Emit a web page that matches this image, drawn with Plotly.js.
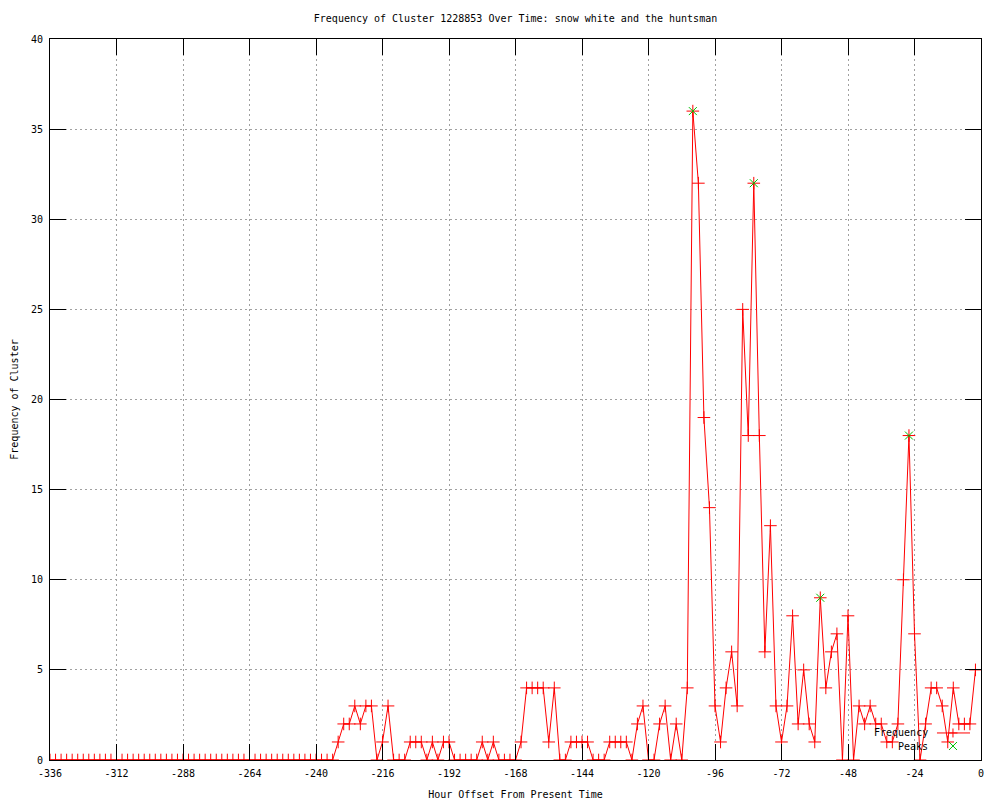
<!DOCTYPE html>
<html>
<head>
<meta charset="utf-8">
<script src="https://cdn.plot.ly/plotly-3.0.1.min.js"></script>
<style>html,body{margin:0;padding:0;background:#fff;}#chart{width:1000px;height:800px;}</style>
</head>
<body>
<div id="chart"></div>
<script>
// Hour offsets (every 2 hours from -336 to -2)
const hours = [];
for (let h = -336; h <= -2; h += 2) hours.push(h);

// Frequency values, one per hour offset above
const frequency = [
  0,0,0,0,0,0,0,0,0,0, 0,0,0,0,0,0,0,0,0,0,   // -336 .. -298
  0,0,0,0,0,0,0,0,0,0, 0,0,0,0,0,0,0,0,0,0,   // -296 .. -258
  0,0,0,0,0,0,0,0,0,0, 0,0,                   // -256 .. -234
  1,2,2,3,2,3,3,0,1,3,                        // -232 .. -214
  0,0,0,1,1,1,0,1,0,1,                        // -212 .. -194
  1,0,0,0,0,0,1,0,1,0,                        // -192 .. -174
  0,0,0,1,4,4,4,4,1,4,                        // -172 .. -154
  0,0,1,1,1,1,0,0,0,1,                        // -152 .. -134
  1,1,1,0,2,3,0,0,2,3,                        // -132 .. -114
  0,2,0,4,36,32,19,14,3,1,                    // -112 .. -94
  4,6,3,25,18,32,18,6,13,3,                   // -92 .. -74
  1,3,8,2,5,2,1,9,4,6,                        // -72 .. -54
  7,0,8,0,3,2,3,2,2,1,                        // -52 .. -34
  1,2,10,18,7,0,2,4,4,3,                      // -32 .. -14
  1,4,2,2,2,5                                 // -12 .. -2
];

// Detected peaks
const peakHours = [-104, -82, -58, -26];
const peakValues = [36, 32, 9, 18];

// Tick labels
const xTicks = [-336,-312,-288,-264,-240,-216,-192,-168,-144,-120,-96,-72,-48,-24,0];
const yTicks = [0,5,10,15,20,25,30,35,40];

// Legend entries
const legendNames = ['Frequency', 'Peaks'];

const FONT = 'DejaVu Sans Mono, monospace';
const RED = '#ff0000';
const GREEN = '#00c000';

const traces = [
  {
    x: hours, y: frequency, type: 'scatter', mode: 'lines+markers',
    name: legendNames[0], showlegend: false,
    line: {color: RED, width: 1},
    marker: {symbol: 'cross-thin-open', size: 9, color: RED, line: {color: RED, width: 1}}
  },
  {
    x: peakHours, y: peakValues, type: 'scatter', mode: 'markers',
    name: legendNames[1], showlegend: false,
    marker: {symbol: 'x-thin-open', size: 8, color: GREEN, line: {color: GREEN, width: 1}}
  }
];

const axisCommon = {
  showline: true, linecolor: '#000', linewidth: 1, mirror: 'ticks',
  ticks: 'inside', ticklen: 16, tickwidth: 1, tickcolor: '#000',
  showgrid: true, gridcolor: '#a0a0a0', gridwidth: 1, griddash: '2px,3px',
  zeroline: false, tickfont: {family: FONT, size: 10, color: '#000'}
};

// gnuplot-style key (text right-aligned, sample to the right), in paper units
const keyTextX = 0.9452, keySampleX0 = 0.9527, keySampleX1 = 0.9882, keyMarkX = 0.9699;
const keyRows = [0.0375, 0.0194];

const annotations = legendNames.map((n, i) => ({
  text: n, xref: 'paper', yref: 'paper', x: keyTextX, y: keyRows[i],
  xanchor: 'right', yanchor: 'middle', showarrow: false,
  font: {family: FONT, size: 10, color: '#000'}
}));

const shapes = [
  {type: 'line', xref: 'paper', yref: 'paper', x0: keySampleX0, x1: keySampleX1, y0: keyRows[0], y1: keyRows[0],
   line: {color: RED, width: 1}},
  {type: 'path', xref: 'paper', yref: 'paper', xsizemode: 'pixel', ysizemode: 'pixel',
   xanchor: keyMarkX, yanchor: keyRows[0], path: 'M -4.5 0 L 4.5 0 M 0 -4.5 L 0 4.5',
   line: {color: RED, width: 1}},
  {type: 'path', xref: 'paper', yref: 'paper', xsizemode: 'pixel', ysizemode: 'pixel',
   xanchor: keyMarkX, yanchor: keyRows[1], path: 'M -4 -4 L 4 4 M -4 4 L 4 -4',
   line: {color: GREEN, width: 1}}
];

const layout = {
  width: 1000, height: 800,
  margin: {l: 50, r: 19, t: 39, b: 40},
  paper_bgcolor: '#fff', plot_bgcolor: '#fff',
  font: {family: FONT, size: 10, color: '#000'},
  title: {
    text: 'Frequency of Cluster 1228853 Over Time: snow white and the huntsman',
    font: {family: FONT, size: 10, color: '#000'},
    x: 0.5, xref: 'paper', y: 1 - 18/800, yref: 'container', yanchor: 'middle'
  },
  xaxis: Object.assign({}, axisCommon, {
    range: [-336, 0], tickmode: 'array', tickvals: xTicks,
    ticktext: xTicks.map(String), ticklabelstandoff: 4,
    title: {text: 'Hour Offset From Present Time', font: {family: FONT, size: 10, color: '#000'}, standoff: 12}
  }),
  yaxis: Object.assign({}, axisCommon, {
    range: [0, 40], tickmode: 'array', tickvals: yTicks,
    ticktext: yTicks.map(String), ticklabelstandoff: 4,
    title: {text: 'Frequency of Cluster', font: {family: FONT, size: 10, color: '#000'}, standoff: 10}
  }),
  showlegend: false,
  annotations: annotations,
  shapes: shapes
};

Plotly.newPlot('chart', traces, layout, {displayModeBar: false, staticPlot: true});
</script>
</body>
</html>
